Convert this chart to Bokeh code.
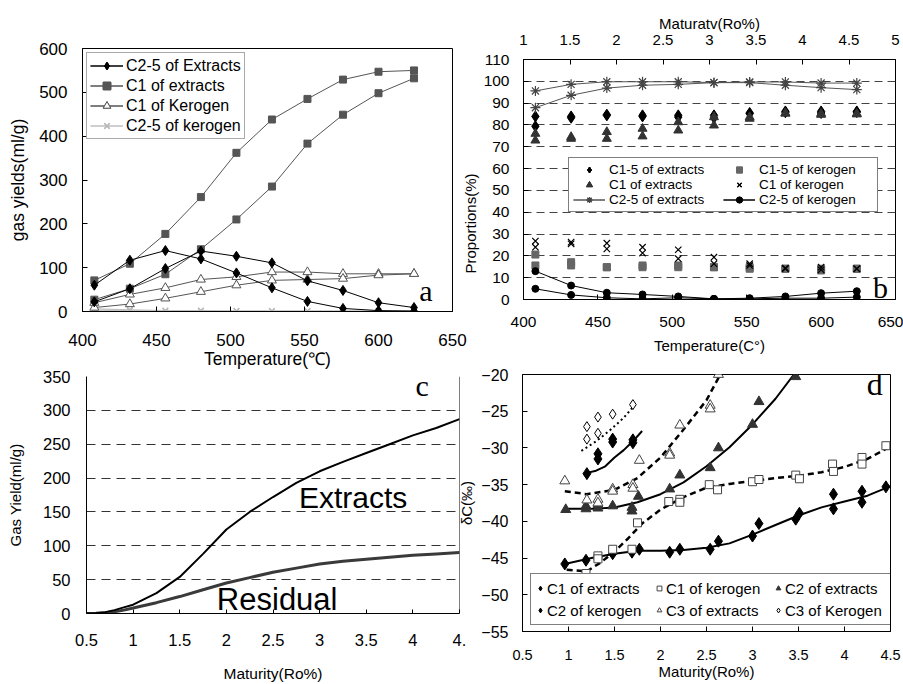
import math
from jinja2 import Template
from bokeh.plotting import figure
from bokeh.models import Range1d, LinearAxis, Label, Span, Title, NumeralTickFormatter
from bokeh.embed import file_html
from bokeh.resources import INLINE

FONT = "Liberation Sans"
SERIF = "Liberation Serif"

# ---------------- panel a : gas yields vs temperature ----------------
temp = [408, 432, 456, 480, 504, 528, 552, 576, 600, 624]
a_c25_ext_1 = [60, 117, 139, 120, 88, 54, 23, 7, 2, 1]
a_c25_ext_2 = [22, 52, 98, 138, 126, 111, 70, 48, 20, 9]
a_c1_ext_1 = [71, 109, 177, 261, 362, 438, 485, 529, 547, 550]
a_c1_ext_2 = [27, 52, 85, 142, 210, 285, 383, 449, 498, 532]
a_c1_ker_1 = [20, 39, 54, 73, 79, 90, 90, 86, 86, 86]
a_c1_ker_2 = [9, 17, 30, 45, 60, 71, 73, 75, 83, 86]
a_c25_ker_1 = [6, 4, 2, 2, 1, 1, 1, 1, 1, 1]
a_c25_ker_2 = [3, 2, 1, 1, 1, 1, 1, 1, 1, 1]
a_xticks = [400, 450, 500, 550, 600, 650]
a_yticks = [0, 100, 200, 300, 400, 500, 600]

# ---------------- panel b : proportions ----------------
b_c25_ext_1 = [95.6, 98.6, 99.8, 99.8, 99.8, 99.4, 99.7, 99.7, 99.2, 99.2]
b_c25_ext_2 = [87.9, 93.6, 96.9, 98.2, 98.6, 99.4, 99.4, 98.2, 97.1, 96.2]
b_c15_ext_1 = [83.9, 83.9, 84.7, 84.4, 84.4, 84.4, 85.5, 86.2, 86.2, 86.2]
b_c15_ext_2 = [79.4, 83.3, 84.4, 83.9, 83.6, 83.3, 85.2, 85.8, 85.5, 85.9]
b_c1_ext_1 = [76.0, 74.5, 76.8, 74.8, 77.5, 79.8, 83.6, 85.5, 85.2, 85.2]
b_c1_ext_2 = [72.9, 73.7, 73.7, 78.3, 81.3, 83.6, 82.9, 85.2, 84.7, 84.9]
b_c1_ker_1 = [24.0, 25.5, 23.2, 24.0, 22.8, 19.4, 15.6, 14.1, 14.8, 14.1]
b_c1_ker_2 = [26.8, 26.3, 25.8, 21.3, 18.7, 16.4, 16.4, 14.4, 13.6, 14.1]
b_c15_ker_1 = [15.6, 17.1, 14.8, 14.8, 15.6, 14.8, 14.8, 14.1, 14.1, 14.1]
b_c15_ker_2 = [20.6, 15.6, 14.8, 15.6, 14.8, 14.8, 14.1, 14.1, 13.3, 14.1]
b_c25_ker_1 = [13.0, 6.4, 3.1, 2.3, 1.4, 0.3, 0.6, 1.4, 2.9, 3.8]
b_c25_ker_2 = [4.9, 2.1, 0.8, 0.3, 0.8, 0.3, 0.3, 0.6, 0.6, 1.1]
b_yticks = [0, 10, 20, 30, 40, 50, 60, 70, 80, 90, 100, 110]
b_ro_ticks = [1, 1.5, 2, 2.5, 3, 3.5, 4, 4.5, 5]

# ---------------- panel c : gas yield vs maturity ----------------
c_ro = [0.5, 0.6, 0.7, 0.8, 0.9, 1.0, 1.25, 1.5, 1.75, 2.0, 2.25, 2.5, 2.75, 3.0, 3.25, 3.5, 3.75, 4.0, 4.25, 4.5]
c_extracts = [0, 0.5, 2, 5, 9, 13, 30, 54, 88, 124, 150, 172, 193, 210, 224, 237, 250, 263, 274, 287]
c_residual = [0, 0.3, 1, 2.5, 5, 8, 16, 25, 35, 45, 53, 61, 67, 73, 77, 80, 83, 86, 88, 90]
c_xticks = [0.5, 1, 1.5, 2, 2.5, 3, 3.5, 4, 4.5]
c_yticks = [0, 50, 100, 150, 200, 250, 300, 350]

# ---------------- panel d : carbon isotopes ----------------
d_c1_ext_x = [0.96, 1.19, 1.48, 1.69, 1.77, 2.10, 2.21, 2.54, 2.63, 3.0, 3.07, 3.47, 3.51, 3.88, 3.88, 4.19, 4.19, 4.45]
d_c1_ext_y = [-45.8, -45.3, -44.4, -44.2, -43.8, -44.2, -43.8, -43.8, -42.7, -42.0, -40.3, -39.7, -38.9, -38.3, -36.3, -37.4, -35.9, -35.3]
d_c1_ext_fx = [0.96, 1.25, 1.5, 1.75, 2.0, 2.25, 2.5, 2.75, 3.0, 3.25, 3.5, 3.75, 4.0, 4.25, 4.5]
d_c1_ext_fy = [-45.8, -45.0, -44.4, -44.0, -44.0, -43.9, -43.6, -43.0, -41.8, -40.5, -39.2, -38.1, -37.3, -36.5, -35.2]

d_c1_ker_x = [1.19, 1.32, 1.32, 1.48, 1.69, 1.75, 2.09, 2.21, 2.21, 2.53, 2.62, 3.0, 3.07, 3.47, 3.51, 3.87, 3.88, 4.19, 4.19, 4.45]
d_c1_ker_y = [-47.1, -44.7, -45.1, -43.8, -43.8, -40.2, -37.3, -37.0, -37.4, -35.0, -35.7, -34.6, -34.3, -33.7, -34.2, -32.2, -33.2, -31.3, -32.2, -29.7]
d_c1_ker_fx = [0.98, 1.2, 1.35, 1.5, 1.65, 1.8, 2.0, 2.25, 2.5, 2.75, 3.0, 3.25, 3.5, 3.75, 4.0, 4.25, 4.5]
d_c1_ker_fy = [-46.6, -46.8, -45.6, -44.1, -42.3, -40.3, -38.4, -36.7, -35.4, -34.9, -34.5, -34.1, -33.8, -33.3, -32.6, -31.5, -29.8]

d_c2_ext_x = [0.97, 1.19, 1.19, 1.32, 1.32, 1.48, 1.69, 1.69, 1.76, 2.1, 2.21, 2.54, 2.63, 3.0, 3.07, 3.47]
d_c2_ext_y = [-38.4, -37.9, -38.3, -37.7, -38.2, -37.9, -38.1, -38.6, -36.6, -35.6, -33.7, -32.7, -30.0, -26.8, -23.7, -20.3]
d_c2_ext_fx = [0.97, 1.25, 1.5, 1.75, 2.0, 2.25, 2.5, 2.75, 3.0, 3.25, 3.45]
d_c2_ext_fy = [-38.3, -38.3, -38.1, -37.4, -36.3, -34.7, -32.5, -29.9, -26.8, -23.3, -20.0]

d_c3_ext_x = [0.96, 1.2, 1.32, 1.32, 1.48, 1.48, 1.7, 1.7, 1.77, 2.1, 2.1, 2.21, 2.54, 2.54, 2.63]
d_c3_ext_y = [-34.5, -37.1, -37.0, -37.5, -35.6, -35.9, -35.0, -35.5, -31.7, -30.7, -31.0, -26.9, -24.2, -24.7, -20.0]
d_c3_ext_fx = [0.96, 1.2, 1.5, 1.75, 2.0, 2.25, 2.5, 2.65]
d_c3_ext_fy = [-35.9, -36.3, -35.7, -34.1, -31.3, -27.5, -23.5, -20.0]

d_c2_ker_x = [1.2, 1.32, 1.32, 1.48, 1.48, 1.7, 1.7]
d_c2_ker_y = [-33.5, -30.8, -31.5, -28.8, -29.2, -28.9, -29.3]
d_c2_ker_fx = [1.2, 1.3, 1.4, 1.5, 1.6, 1.7, 1.8]
d_c2_ker_fy = [-33.4, -33.1, -32.5, -31.3, -30.3, -29.1, -27.7]

d_c3_ker_x = [1.2, 1.2, 1.32, 1.32, 1.48, 1.7]
d_c3_ker_y = [-27.1, -28.8, -25.8, -28.0, -25.4, -24.1]
d_c3_ker_fx = [1.14, 1.3, 1.45, 1.6, 1.75]
d_c3_ker_fy = [-30.4, -29.1, -27.6, -25.9, -23.7]

d_xticks = [0.5, 1, 1.5, 2, 2.5, 3, 3.5, 4, 4.5]
d_yticks = [-55, -50, -45, -40, -35, -30, -25, -20]


def make_fig(name, xr, yr, w, h, mbl, mbr, mbt, mbb):
    p = figure(name=name, x_range=xr, y_range=yr, width=w, height=h,
               min_border_left=mbl, min_border_right=mbr,
               min_border_top=mbt, min_border_bottom=mbb,
               output_backend="svg", toolbar_location=None, title=None,
               background_fill_color="white", border_fill_color=None)
    p.xgrid.visible = False
    p.ygrid.visible = False
    p.outline_line_color = "black"
    p.outline_line_width = 1
    return p


def style_axis(ax, tick_size, label_size, std, lstd, tick_in=5):
    ax.axis_line_color = "black"
    ax.major_tick_line_color = "black"
    ax.minor_tick_line_color = None
    ax.major_tick_in = tick_in
    ax.major_tick_out = 0
    ax.major_label_text_font = FONT
    ax.major_label_text_font_size = tick_size
    ax.major_label_text_color = "black"
    ax.axis_label_text_font = FONT
    ax.axis_label_text_font_size = label_size
    ax.axis_label_text_font_style = "normal"
    ax.axis_label_text_color = "black"
    ax.major_label_standoff = std
    ax.axis_label_standoff = lstd


def style_legend(lg, size):
    lg.label_text_font = FONT
    lg.label_text_font_size = size
    lg.label_text_color = "black"
    lg.background_fill_color = "white"
    lg.background_fill_alpha = 1
    lg.border_line_color = "black"
    lg.border_line_width = 1


def text_label(p, x, y, text, font, size, align="center"):
    p.add_layout(Label(x=x, y=y, text=text, text_font=font, text_font_size=size,
                       text_align=align, text_baseline="alphabetic", text_color="black"))


# ======================= panel a =======================
pa = make_fig("panel_a", Range1d(400, 650), Range1d(0, 600), 470, 372, 82, 18, 48, 61)
pa.xaxis.ticker = a_xticks
pa.yaxis.ticker = a_yticks
pa.xaxis.axis_label = "Temperature(\u2103)"
pa.yaxis.axis_label = "gas yields(ml/g)"
style_axis(pa.xaxis[0], "17px", "17.5px", 22, 0)
style_axis(pa.yaxis[0], "17px", "17.5px", 15, 8)

for ys in (a_c25_ker_1, a_c25_ker_2):
    pa.line(temp, ys, line_color="#c0c0c0", line_width=1.2, legend_label="C2-5 of kerogen")
    pa.scatter(temp, ys, marker="x", size=8, line_color="#b8b8b8", line_width=1.3, legend_label="C2-5 of kerogen")
for ys in (a_c1_ker_1, a_c1_ker_2):
    pa.line(temp, ys, line_color="#555555", line_width=1, legend_label="C1 of Kerogen")
    pa.scatter(temp, ys, marker="triangle", size=9, line_color="#555555", fill_color="white", line_width=1, legend_label="C1 of Kerogen")
for ys in (a_c1_ext_1, a_c1_ext_2):
    pa.line(temp, ys, line_color="#555555", line_width=1, legend_label="C1 of extracts")
    pa.scatter(temp, ys, marker="square", size=7, line_color="#555555", fill_color="#555555", legend_label="C1 of extracts")
for ys in (a_c25_ext_1, a_c25_ext_2):
    pa.line(temp, ys, line_color="black", line_width=1, legend_label="C2-5 of Extracts")
    pa.scatter(temp, ys, marker="diamond", size=10, line_color="black", fill_color="black", legend_label="C2-5 of Extracts")

lga = pa.legend[0]
order = ["C2-5 of Extracts", "C1 of extracts", "C1 of Kerogen", "C2-5 of kerogen"]
lga.items = sorted(lga.items, key=lambda it: order.index(it.label.value))
style_legend(lga, "16px")
lga.border_line_color = "#555555"
lga.border_line_width = 1.5
lga.location = "top_left"
lga.margin = 4
lga.padding = 3
lga.spacing = 1
lga.glyph_width = 33
lga.glyph_height = 19
lga.label_height = 19
lga.label_standoff = 3

text_label(pa, 632, 49, "a", SERIF, "30px")

# ======================= panel b =======================
pb = make_fig("panel_b", Range1d(400, 650), Range1d(0, 110), 448, 372, 68, 8, 59, 73)
pb.extra_x_ranges = {"ro": Range1d(b_ro_ticks[0], b_ro_ticks[-1])}
top_axis = LinearAxis(x_range_name="ro", axis_label="Maturatv(Ro%)",
                      formatter=NumeralTickFormatter(format="0.[0]"))
top_axis.ticker = b_ro_ticks
style_axis(top_axis, "15px", "15px", 15, 0)
pb.add_layout(top_axis, "above")
pb.below[0].ticker = a_xticks
pb.yaxis.ticker = b_yticks
pb.below[0].axis_label = "Temperature(C\u00b0)"
style_axis(pb.below[0], "15.5px", "15px", 17, 7)
style_axis(pb.yaxis[0], "15.5px", "15px", 14, 4)
pb.ygrid.visible = True
pb.ygrid.ticker = b_yticks
pb.ygrid.grid_line_color = "#444444"
pb.ygrid.grid_line_dash = "8 5"
pb.ygrid.grid_line_width = 1

for ys in (b_c15_ext_1, b_c15_ext_2):
    pb.scatter(temp, ys, marker="diamond", size=11, color="black", legend_label="C1-5 of extracts")
for ys in (b_c1_ext_1, b_c1_ext_2):
    pb.scatter(temp, ys, marker="triangle", size=9, color="#333333", legend_label="C1 of extracts")
for ys in (b_c25_ext_1, b_c25_ext_2):
    pb.line(temp, ys, line_color="#555555", line_width=1, legend_label="C2-5 of extracts")
    pb.scatter(temp, ys, marker="asterisk", size=10, line_color="#444444", line_width=1.2, legend_label="C2-5 of extracts")
for ys in (b_c15_ker_1, b_c15_ker_2):
    pb.scatter(temp, ys, marker="square", size=7, color="#666666", legend_label="C1-5 of kerogen")
for ys in (b_c1_ker_1, b_c1_ker_2):
    pb.scatter(temp, ys, marker="x", size=9, line_color="black", line_width=1.2, legend_label="C1 of kerogen")
for ys in (b_c25_ker_1, b_c25_ker_2):
    pb.line(temp, ys, line_color="black", line_width=1, legend_label="C2-5 of kerogen")
    pb.scatter(temp, ys, marker="circle", size=7, color="black", legend_label="C2-5 of kerogen")

lgb = pb.legend[0]
style_legend(lgb, "13.5px")
lgb.location = (45, 87)
lgb.margin = 0
lgb.orientation = "vertical"
lgb.ncols = 2
lgb.padding = 4
lgb.spacing = 0
lgb.glyph_width = 32
lgb.glyph_height = 15
lgb.label_height = 15
lgb.label_standoff = 4
lgb.label_width = 114

pb.add_layout(Title(text="Proportions(%)", align="left", offset=26, standoff=4,
                    text_font=FONT, text_font_size="15px", text_font_style="normal",
                    text_color="black"), "left")
text_label(pb, 640, 5.6, "b", SERIF, "30px")

# ======================= panel c =======================
pc = make_fig("panel_c", Range1d(c_xticks[0], c_xticks[-1]), Range1d(c_yticks[0], c_yticks[-1]), 472, 322, 86, 13, 14, 67)
pc.outline_line_color = None
pc.xaxis.ticker = c_xticks
pc.yaxis.ticker = c_yticks
pc.xaxis.formatter = NumeralTickFormatter(format="0.[0]")
pc.xaxis.major_label_overrides = {4.5: "4."}
pc.xaxis.axis_label = "Maturity(Ro%)"
pc.yaxis.axis_label = "Gas Yield(ml/g)"
style_axis(pc.xaxis[0], "16.5px", "15.5px", 20, 16, tick_in=4)
style_axis(pc.yaxis[0], "16.5px", "15px", 16, 16, tick_in=0)
pc.ygrid.visible = True
pc.ygrid.ticker = c_yticks
pc.ygrid.grid_line_color = "#333333"
pc.ygrid.grid_line_dash = "9 6"
pc.ygrid.grid_line_width = 1
pc.add_layout(Span(location=c_xticks[-1], dimension="height", line_color="black", line_width=1))

pc.line(c_ro, c_residual, line_color="#3a3a3a", line_width=3)
pc.line(c_ro, c_extracts, line_color="black", line_width=2)
text_label(pc, 2.778, 171.4, "Extracts", FONT, "30px", align="left")
text_label(pc, 1.898, 20.3, "Residual", FONT, "31px", align="left")
text_label(pc, 4.1, 337, "c", SERIF, "30px")

# ======================= panel d =======================
pd_ = make_fig("panel_d", Range1d(d_xticks[0], d_xticks[-1]), Range1d(d_yticks[0], d_yticks[-1]), 448, 322, 66, 13, 12, 53)
pd_.xaxis.ticker = d_xticks
pd_.yaxis.ticker = d_yticks
pd_.xaxis.formatter = NumeralTickFormatter(format="0.[0]")
pd_.xaxis.axis_label = "Maturity(Ro%)"
pd_.yaxis.axis_label = "\u03b4C(\u2030)"
style_axis(pd_.xaxis[0], "14.5px", "15px", 18, 0)
style_axis(pd_.yaxis[0], "16px", "15px", 14, 3)

pd_.line(d_c1_ext_fx, d_c1_ext_fy, line_color="black", line_width=2)
pd_.line(d_c1_ker_fx, d_c1_ker_fy, line_color="black", line_width=2.5, line_dash="6 4")
pd_.line(d_c2_ext_fx, d_c2_ext_fy, line_color="black", line_width=2)
pd_.line(d_c3_ext_fx, d_c3_ext_fy, line_color="black", line_width=2.5, line_dash="6 4")
pd_.line(d_c2_ker_fx, d_c2_ker_fy, line_color="black", line_width=2)
pd_.line(d_c3_ker_fx, d_c3_ker_fy, line_color="black", line_width=2, line_dash="2 3")

pd_.scatter(d_c1_ext_x, d_c1_ext_y, marker="diamond", size=12, color="black", legend_label="C1 of extracts")
pd_.scatter(d_c1_ker_x, d_c1_ker_y, marker="square", size=8, line_color="#444444", fill_color="white", line_width=1, legend_label="C1 of kerogen")
pd_.scatter(d_c2_ext_x, d_c2_ext_y, marker="triangle", size=10, color="#333333", legend_label="C2 of extracts")
pd_.scatter(d_c2_ker_x, d_c2_ker_y, marker="diamond", size=12, color="black", legend_label="C2 of kerogen")
pd_.scatter(d_c3_ext_x, d_c3_ext_y, marker="triangle", size=10, line_color="#444444", fill_color="white", line_width=1, legend_label="C3 of extracts")
pd_.scatter(d_c3_ker_x, d_c3_ker_y, marker="diamond", size=10, line_color="black", fill_color="white", line_width=1, legend_label="C3 of Kerogen")

lgd = pd_.legend[0]
style_legend(lgd, "15px")
lgd.location = (8, 6)
lgd.margin = 0
lgd.orientation = "horizontal"
lgd.nrows = 2
lgd.padding = 3
lgd.spacing = 0
lgd.glyph_width = 12
lgd.glyph_height = 22
lgd.label_height = 22
lgd.label_standoff = 1
lgd.label_width = 106

text_label(pd_, 4.33, -21.36, "d", SERIF, "32px")

# page: each panel placed at its own position
PAGE = Template("""<!DOCTYPE html>
<html lang="en">
<head>
<meta charset="utf-8">
<title>{{ title }}</title>
{{ bokeh_css if bokeh_css }}
{{ bokeh_js if bokeh_js }}
<style>
html, body { margin: 0; padding: 0; background: #ffffff; overflow: hidden; }
.cell { position: absolute; }
</style>
</head>
<body>
<div class="cell" style="left:0px; top:0px;"><div id="{{ roots.panel_a.elementid }}" style="display: contents;"></div></div>
<div class="cell" style="left:455px; top:0px;"><div id="{{ roots.panel_b.elementid }}" style="display: contents;"></div></div>
<div class="cell" style="left:0px; top:362px;"><div id="{{ roots.panel_c.elementid }}" style="display: contents;"></div></div>
<div class="cell" style="left:455px; top:362px;"><div id="{{ roots.panel_d.elementid }}" style="display: contents;"></div></div>
{{ plot_script }}
</body>
</html>
""")

open("out.html", "w").write(file_html([pa, pb, pc, pd_], INLINE, title="Gas yields", template=PAGE))
